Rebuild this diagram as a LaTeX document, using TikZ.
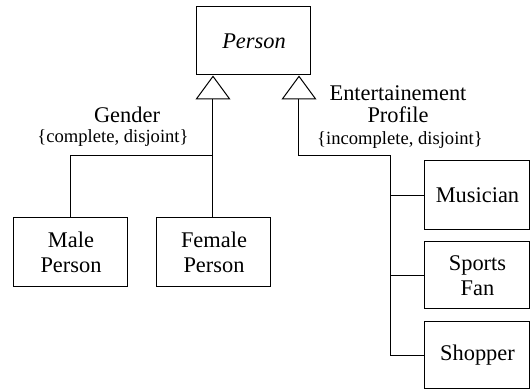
\documentclass[tikz,border=0pt]{standalone}
\usepackage{fontspec}
\setmainfont{Liberation Serif}
\usetikzlibrary{arrows.meta}

\begin{document}
\begin{tikzpicture}[x=.5pt,y=-.5pt,
      umlclass/.style={draw, line width=.5pt, align=center, inner sep=0pt,
        font=\fontsize{11.2}{12.5}\selectfont},
      role/.style={align=center, inner sep=0pt,
        font=\fontsize{11.2}{11}\selectfont},
      constraint/.style={inner sep=0pt, font=\fontsize{9.3}{11}\selectfont},
      link/.style={draw, line width=.5pt},
      gen/.style={link, -{Triangle[open, length=12pt, width=17.5pt]}}]
      \useasboundingbox (0,0) rectangle (532,390);

      \node[umlclass, minimum width=57pt, minimum height=34pt]
        (person) at (254,41) {\itshape Person};

      \node[umlclass, minimum width=57pt, minimum height=34.5pt]
        (male) at (71,252.5) {\fontsize{11.2}{11.5}\selectfont Male\\Person};
      \node[umlclass, minimum width=57pt, minimum height=34.5pt]
        (female) at (214,252.5) {\fontsize{11.2}{14}\selectfont Female\\Person};

      \node[umlclass, minimum width=52.5pt, minimum height=34.5pt]
        (musician) at (477.5,195.5) {Musician};
      \node[umlclass, minimum width=52.5pt, minimum height=33.5pt]
        (sportsfan) at (477.5,275.5) {\fontsize{11.2}{14}\selectfont Sports\\Fan};
      \node[umlclass, minimum width=52.5pt, minimum height=33.5pt]
        (shopper) at (477.5,355.5) {Shopper};

      % gender
      \coordinate (gjoin) at (213,156);
      \draw[gen] (female.north -| gjoin) -- (person.south -| gjoin);
      \draw[link] (male.north) |- (gjoin);
      \node[role] (gender) at (127,115) {Gender};
      \node[constraint] (gcons) at (113,138) {\{complete, disjoint\}};

      % entertainement profile
      \coordinate (ejoin) at (391,156);
      \coordinate (etop) at (299,0);
      \draw[gen] (shopper.west) -| (ejoin) -| (person.south -| etop);
      \draw[link] (musician.west) -- (musician.west -| ejoin);
      \draw[link] (sportsfan.west) -- (sportsfan.west -| ejoin);
      \node[role] (profile) at (398,104) {Entertainement\\Profile};
      \node[constraint] (econs) at (400,140) {\{incomplete, disjoint\}};
    \end{tikzpicture}
\end{document}
